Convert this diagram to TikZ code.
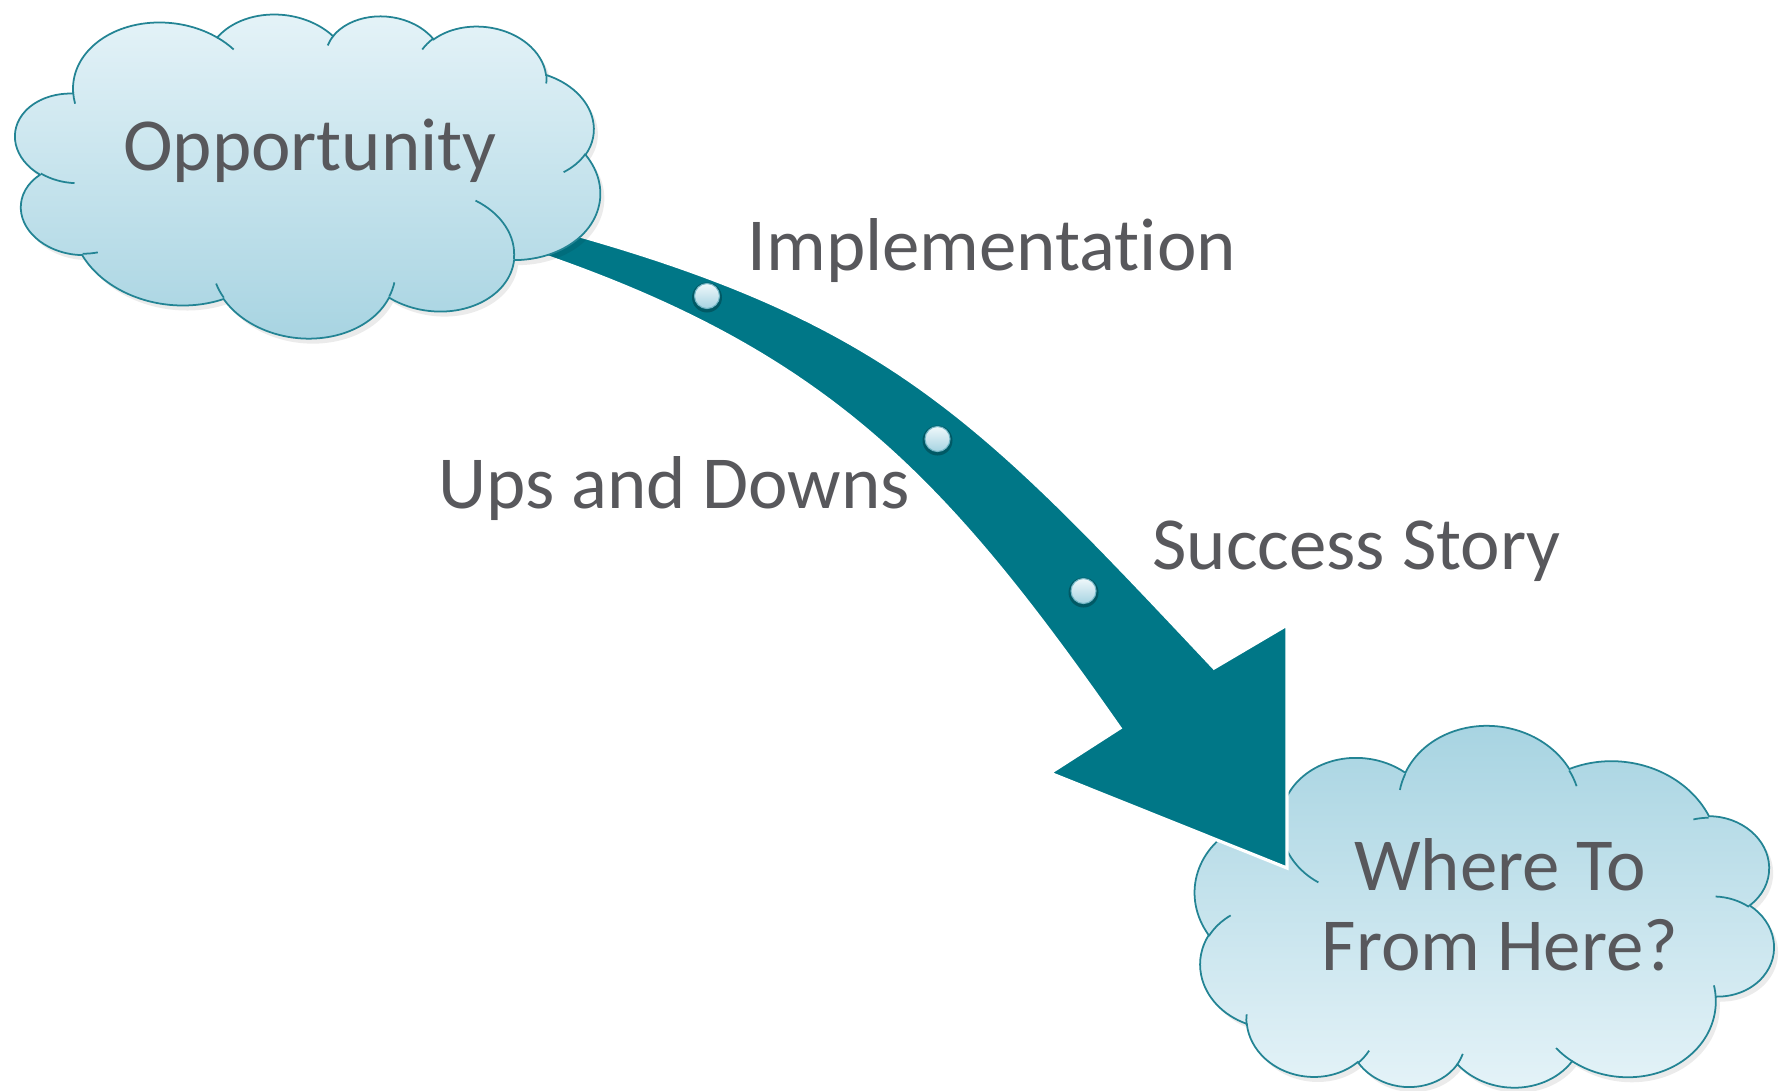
\documentclass[tikz,border=0pt]{standalone}
\usepackage{fontspec}
\setmainfont{Carlito}[Ligatures={NoCommon}]
\definecolor{arrowteal}{RGB}{0,119,135}
\definecolor{cloudedge}{RGB}{35,132,148}
\definecolor{cloudlight}{RGB}{229,243,248}
\definecolor{clouddark}{RGB}{166,211,225}
\definecolor{txtgray}{RGB}{88,88,92}
% DrawingML arc (visual angles) -> TikZ arc (parametric angles)
\newcommand\defarc[5]{%
  \pgfmathsetmacro\tmpS{atan2((#2)*sin(#4),(#3)*cos(#4))}%
  \pgfmathsetmacro\tmpE{atan2((#2)*sin((#4)+(#5)),(#3)*cos((#4)+(#5)))}%
  \pgfmathsetmacro\tmpD{\tmpE-\tmpS}%
  \pgfmathparse{ifthenelse(\tmpD<0,\tmpD+360,\tmpD)}%
  \expandafter\xdef\csname cloudarc#1\endcsname{arc[x radius=#2, y radius=#3, start angle=\tmpS, delta angle=\pgfmathresult]}%
}
\defarc{a}{6.753}{9.19}{-190.4875}{123.7805}
\defarc{b}{5.333}{7.267}{-144.1024}{89.9452}
\defarc{c}{4.365}{5.945}{-145.8079}{99.7230}
\defarc{d}{4.857}{6.595}{-130.9861}{117.2417}
\defarc{e}{5.333}{7.273}{-78.7089}{109.0269}
\defarc{f}{6.775}{9.22}{-46.2673}{130.2690}
\defarc{g}{5.785}{7.867}{0.6250}{114.0333}
\defarc{h}{6.752}{9.215}{22.4516}{115.1726}
\defarc{i}{7.72}{10.543}{66.2426}{75.7110}
\defarc{j}{4.36}{5.918}{-274.9421}{146.7356}
\defarc{k}{4.345}{5.945}{-246.8285}{152.5189}
\defarc{l}{4.345}{5.945}{86.7420}{26.4295}
\defarc{m}{4.36}{5.918}{73.6105}{11.4475}
\defarc{n}{6.752}{9.215}{137.6242}{14.0811}
\defarc{o}{6.752}{9.215}{6.4533}{15.9984}
\defarc{p}{5.785}{7.867}{-70.2924}{70.9174}
\defarc{q}{5.333}{7.273}{30.3180}{27.7515}
\defarc{r}{4.857}{6.595}{-13.7443}{14.8589}
\defarc{s}{4.857}{6.595}{-149.1815}{18.1954}
\defarc{t}{4.365}{5.945}{-163.4943}{17.6864}
\defarc{u}{6.753}{9.19}{-66.7070}{12.3194}
\defarc{v}{6.753}{9.19}{157.6544}{11.8582}
\newcommand\cloudoutline{(3.9,14.37) \cloudarca \cloudarcb \cloudarcc \cloudarcd \cloudarce \cloudarcf \cloudarcg \cloudarch \cloudarci \cloudarcj \cloudarck -- cycle}
\newcommand\cloudcreases{(4.693,26.177) \cloudarcl (6.928,34.899) \cloudarcm (16.478,39.09) \cloudarcn (28.827,34.751) \cloudarco (34.129,22.954) \cloudarcp (41.798,15.354) \cloudarcq (38.324,5.426) \cloudarcr (29.078,3.952) \cloudarcs (22.141,4.72) \cloudarct (14,5.192) \cloudarcu (4.127,15.789) \cloudarcv}
\tikzset{
  cloudbody/.style={draw=cloudedge, line width=0.5pt},
  cloudcrease/.style={draw=cloudedge, line width=0.5pt},
  cloudshadow/.style={fill=black, opacity=0.08},
  bigarrow/.style={fill=arrowteal, draw=white, line width=0.9pt, line join=miter},
  dotglow/.style={circle, fill=arrowteal!55!black, opacity=0.55, minimum size=0.30cm, inner sep=0pt},
  dotbead/.style={circle, top color=cloudlight!60!white, bottom color=clouddark, draw=clouddark!70!arrowteal, line width=0.3pt, minimum size=0.25cm, inner sep=0pt},
  lbl/.style={text=txtgray, font=\fontsize{21.3}{22.76}\selectfont, inner sep=0pt, anchor=base},
}
\begin{document}
\begin{tikzpicture}
\useasboundingbox (0,0) rectangle (17.85,-10.90);
\fill[white] (0,0) rectangle (17.85,-10.90);
% destination cloud (turned upside down, tilted)
\begin{scope}[shift={(14.89,-9.165)}, rotate=-6, xscale=-0.134722, yscale=0.085236, shift={(-21.6,-21.6)}]
  \path[cloudshadow] \cloudoutline;
\end{scope}
\begin{scope}[shift={(14.85,-9.115)}, rotate=-6, xscale=-0.134722, yscale=0.085236, shift={(-21.6,-21.6)}]
  \path[cloudbody, top color=clouddark, bottom color=cloudlight] \cloudoutline;
  \path[cloudcrease] \cloudcreases;
\end{scope}
% curved arrow
\path[bigarrow] (5.03,-2.14) -- (5.80,-2.36)
  .. controls (8.96,-3.26) and (9.88,-4.28) .. (12.14,-6.68)
  -- (12.87,-6.25) -- (12.87,-8.68) -- (10.50,-7.73) -- (11.20,-7.28)
  .. controls (9.48,-4.82) and (8.31,-3.56) .. (5.48,-2.57)
  -- (4.73,-2.31) -- cycle;
% source cloud (tilted)
\begin{scope}[shift={(3.11,-1.775)}, rotate=-6, xscale=0.136111, yscale=-0.076157, shift={(-21.6,-21.6)}]
  \path[cloudshadow] \cloudoutline;
\end{scope}
\begin{scope}[shift={(3.07,-1.725)}, rotate=-6, xscale=0.136111, yscale=-0.076157, shift={(-21.6,-21.6)}]
  \path[cloudbody, top color=cloudlight, bottom color=clouddark] \cloudoutline;
  \path[cloudcrease] \cloudcreases;
\end{scope}
% beads on the arrow
\node[dotglow] (g1) at (7.07,-2.975) {};
\node[dotbead] (d1) at (7.07,-2.96) {};
\node[dotglow] (g2) at (9.375,-4.405) {};
\node[dotbead] (d2) at (9.375,-4.39) {};
\node[dotglow] (g3) at (10.835,-5.925) {};
\node[dotbead] (d3) at (10.835,-5.91) {};
% labels
\node[lbl] (opp) at (3.10,-1.70) {Opportunity};
\node[lbl] (impl) at (9.916,-2.70) {Implementation};
\node[lbl] (ups) at (6.74,-5.085) {Ups and Downs};
\node[lbl] (succ) at (13.565,-5.69) {Success Story};
\node[lbl, align=center] (where) at (15.0,-9.70) {Where To\\From Here?};
\end{tikzpicture}
\end{document}
